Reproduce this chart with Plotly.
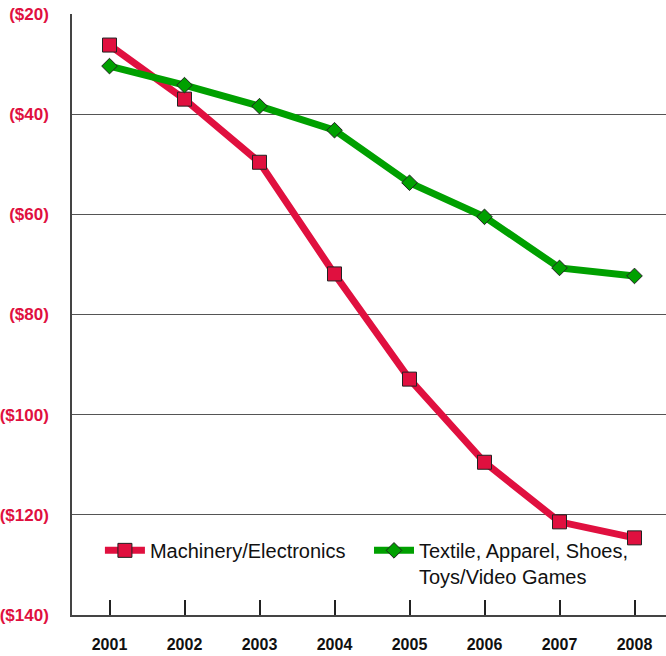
import plotly.graph_objects as go

years = [2001, 2002, 2003, 2004, 2005, 2006, 2007, 2008]
machinery = [-26.2, -37.0, -49.6, -71.9, -92.9, -109.5, -121.4, -124.6]
textile = [-30.4, -34.2, -38.4, -43.2, -53.7, -60.5, -70.7, -72.3]
y_ticks = [-140, -120, -100, -80, -60, -40, -20]
y_labels = ["($140)", "($120)", "($100)", "($80)", "($60)", "($40)", "($20)"]

RED = "#E0103F"
GREEN = "#00A000"
FONT = "Liberation Sans, Arial, sans-serif"

fig = go.Figure()
fig.add_trace(go.Scatter(
    x=years, y=machinery, name="Machinery/Electronics", mode="lines+markers",
    line=dict(color=RED, width=7),
    marker=dict(symbol="square", size=14, color=RED, line=dict(color="#222", width=1)),
    legend="legend",
))
fig.add_trace(go.Scatter(
    x=years, y=textile, name="Textile, Apparel, Shoes,<br>Toys/Video Games", mode="lines+markers",
    line=dict(color=GREEN, width=7),
    marker=dict(symbol="diamond", size=12, color=GREEN, line=dict(color="#222", width=1)),
    legend="legend2",
))

leg_common = dict(
    orientation="h", y=0.14, xanchor="left", yanchor="top",
    font=dict(family=FONT, size=20, color="#111"),
    itemwidth=40, valign="top", bgcolor="rgba(0,0,0,0)",
)

fig.update_layout(
    width=666, height=656,
    margin=dict(l=70, r=0, t=14, b=41),
    paper_bgcolor="white", plot_bgcolor="white",
    font=dict(family=FONT, color="#111"),
    showlegend=True,
    legend=dict(x=0.047, **leg_common),
    legend2=dict(x=0.50, **leg_common),
    xaxis=dict(
        range=[2000.5, 2008.42], tickvals=years, ticktext=[str(y) for y in years],
        showgrid=False, showline=True, linecolor="#444", linewidth=1.5,
        ticks="inside", ticklen=15, tickcolor="#222", tickwidth=1.5,
        tickfont=dict(family=FONT, size=16, color="#111", weight="bold"),
        ticklabelstandoff=14, zeroline=False, fixedrange=True,
    ),
    yaxis=dict(
        range=[-140, -20], tickvals=y_ticks, ticktext=y_labels,
        showgrid=True, gridcolor="#555", gridwidth=1.2,
        showline=True, linecolor="#444", linewidth=1.5, ticks="",
        tickfont=dict(family=FONT, size=17, color=RED, weight="bold"),
        ticklabelstandoff=18, zeroline=False, fixedrange=True,
    ),
)

fig.write_html("out.html", config={"displayModeBar": False},
               post_script="document.body.style.margin='0';")
